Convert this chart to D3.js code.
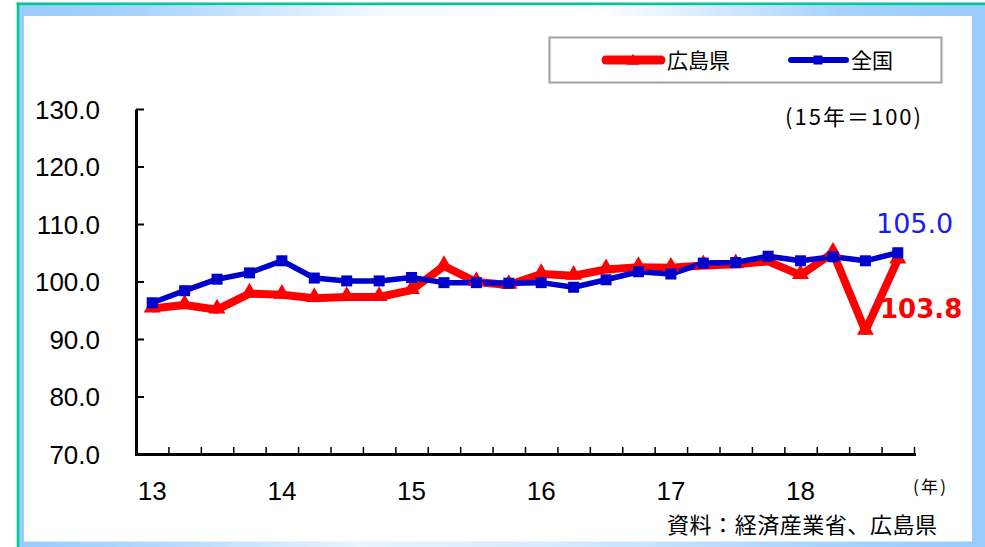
<!DOCTYPE html>
<html>
<head>
<meta charset="utf-8">
<script src="https://cdn.jsdelivr.net/npm/d3@7"></script>
<style>
  html, body { margin: 0; padding: 0; background: #ffffff; }
  svg { display: block; }
</style>
</head>
<body>
<svg id="chart" width="985" height="547"></svg>
<script>
// ---- data ----
const quarters = d3.range(24); // 2013Q1 .. 2018Q4
const yearLabels = ["13", "14", "15", "16", "17", "18"];
const hiroshima = [95.3, 95.9, 95.1, 97.9, 97.7, 97.1, 97.3, 97.3, 98.5, 102.7, 99.9, 99.4,
                   101.3, 101.0, 102.1, 102.5, 102.4, 102.8, 103.0, 103.5, 101.1, 105.0, 91.4, 103.8];
const national  = [96.3, 98.4, 100.4, 101.5, 103.6, 100.6, 100.1, 100.1, 100.7, 99.8, 99.8, 99.7,
                   99.8, 99.0, 100.3, 101.7, 101.3, 103.2, 103.3, 104.4, 103.6, 104.3, 103.6, 105.0];
const yTicks = [70, 80, 90, 100, 110, 120, 130];
const seriesNames = ["広島県", "全国"];

const RED = "#ff0000", BLUE = "#0000cc";
const svg = d3.select("#chart");

// ---- frame ----
const defs = svg.append("defs");
const gTop = defs.append("linearGradient").attr("id", "gTop").attr("x1", "0").attr("x2", "1").attr("y1", "0").attr("y2", "0");
[[0, "#99ccff"], [0.12, "#a6d2ff"], [0.38, "#f4faff"], [0.6, "#ffffff"], [0.85, "#a6d2ff"], [1, "#99ccff"]]
  .forEach(s => gTop.append("stop").attr("offset", s[0]).attr("stop-color", s[1]));
const gBot = defs.append("linearGradient").attr("id", "gBot").attr("x1", "0").attr("x2", "1").attr("y1", "0").attr("y2", "0");
[[0, "#99ccff"], [0.15, "#b4d9ff"], [0.35, "#e8f4ff"], [0.55, "#d6ebff"], [0.85, "#a6d2ff"], [1, "#99ccff"]]
  .forEach(s => gBot.append("stop").attr("offset", s[0]).attr("stop-color", s[1]));

svg.append("rect").attr("x", 19).attr("y", 5).attr("width", 966).attr("height", 11).attr("fill", "url(#gTop)");
svg.append("rect").attr("x", 19).attr("y", 5).attr("width", 5).attr("height", 542).attr("fill", "#99ccff");
svg.append("rect").attr("x", 972).attr("y", 5).attr("width", 13).attr("height", 542).attr("fill", "#99ccff");
svg.append("rect").attr("x", 19).attr("y", 541.5).attr("width", 966).attr("height", 6).attr("fill", "url(#gBot)");
svg.append("rect").attr("x", 16.7).attr("y", 2.5).attr("width", 968.3).attr("height", 2.6).attr("fill", "#00c896");
svg.append("rect").attr("x", 16.7).attr("y", 2.5).attr("width", 2.6).attr("height", 545).attr("fill", "#00c896");

// ---- scales ----
const x = d3.scaleBand().domain(quarters).range([136, 914]).padding(0);
const xc = i => x(i) + x.bandwidth() / 2;
const xLin = d3.scaleLinear().domain([0, 24]).range([136, 914]);
const y = d3.scaleLinear().domain([70, 130]).range([454, 109]);

// ---- axes ----
const yAxis = svg.append("g").attr("transform", "translate(136,0)")
  .call(d3.axisLeft(y).tickValues(yTicks).tickSizeInner(-8).tickSizeOuter(0).tickPadding(36)
        .tickFormat(d3.format(".1f")));
yAxis.select(".domain").attr("stroke", "#000").attr("stroke-width", 3);
yAxis.selectAll(".tick line").attr("stroke", "#000").attr("stroke-width", 2);
yAxis.selectAll(".tick text")
  .attr("font-family", "'Liberation Sans', Arial, sans-serif").attr("font-size", 26)
  .attr("fill", "#000").attr("dy", "0.36em");

const xAxisTicks = svg.append("g").attr("transform", "translate(0,454)")
  .call(d3.axisBottom(xLin).tickValues(d3.range(1, 25)).tickSizeInner(-7).tickSizeOuter(0).tickFormat(""));
xAxisTicks.select(".domain").attr("stroke", "#000").attr("stroke-width", 3).attr("stroke-linecap", "square");
xAxisTicks.selectAll(".tick line").attr("stroke", "#000").attr("stroke-width", 1.5);

const xAxisLabels = svg.append("g").attr("transform", "translate(0,454)")
  .call(d3.axisBottom(x).tickValues([0, 4, 8, 12, 16, 20]).tickSize(0).tickPadding(28)
        .tickFormat(i => yearLabels[i / 4]));
xAxisLabels.select(".domain").remove();
xAxisLabels.selectAll(".tick text")
  .attr("font-family", "'Liberation Sans', Arial, sans-serif").attr("font-size", 26).attr("fill", "#000");

// ---- lines ----
const line = d3.line().x((d, i) => xc(i)).y(d => y(d));
svg.append("path").datum(hiroshima).attr("d", line).attr("fill", "none")
  .attr("stroke", RED).attr("stroke-width", 8).attr("stroke-linejoin", "round");
svg.append("path").datum(national).attr("d", line).attr("fill", "none")
  .attr("stroke", BLUE).attr("stroke-width", 5.5).attr("stroke-linejoin", "round");

const tri = d3.symbol(d3.symbolTriangle).size(125);
svg.append("g").selectAll("path").data(hiroshima).join("path")
  .attr("d", tri).attr("fill", RED)
  .attr("transform", (d, i) => `translate(${xc(i)},${y(d) - 1})`);
svg.append("g").selectAll("rect").data(national).join("rect")
  .attr("x", (d, i) => xc(i) - 5.5).attr("y", d => y(d) - 5.5)
  .attr("width", 11).attr("height", 11).attr("fill", BLUE);

// ---- annotations ----
svg.append("text").attr("x", 876).attr("y", 233).text(national[23].toFixed(1))
  .attr("font-family", "'DejaVu Sans', Verdana, sans-serif").attr("font-size", 27).attr("fill", "#1a1aff");
svg.append("text").attr("x", 880).attr("y", 318).text(hiroshima[23].toFixed(1))
  .attr("font-family", "'DejaVu Sans', Verdana, sans-serif").attr("font-size", 26)
  .attr("font-weight", "bold").attr("fill", RED);

const jp = "'Noto Sans CJK JP', 'Noto Sans', sans-serif";
svg.append("text").attr("x", 785).attr("y", 125).text("(15年＝100)")
  .attr("font-family", jp).attr("font-size", 22).attr("fill", "#000")
  .attr("textLength", 136).attr("lengthAdjust", "spacing");
svg.append("text").attr("x", 913).attr("y", 493).text("(年)")
  .attr("font-family", jp).attr("font-size", 17).attr("fill", "#000")
  .attr("textLength", 33).attr("lengthAdjust", "spacing");
svg.append("text").attr("x", 937).attr("y", 533).attr("text-anchor", "end").text("資料：経済産業省、広島県")
  .attr("font-family", jp).attr("font-size", 22).attr("fill", "#000")
  .attr("textLength", 270).attr("lengthAdjust", "spacing");

// ---- legend ----
const lg = svg.append("g");
lg.append("rect").attr("x", 549.5).attr("y", 37.5).attr("width", 392).attr("height", 45)
  .attr("fill", "#fff").attr("stroke", "#a0a0a0").attr("stroke-width", 2);
lg.append("line").attr("x1", 606).attr("x2", 661).attr("y1", 60).attr("y2", 60)
  .attr("stroke", RED).attr("stroke-width", 9).attr("stroke-linecap", "round");
lg.append("path").attr("d", d3.symbol(d3.symbolTriangle).size(70)).attr("fill", RED)
  .attr("transform", "translate(633,61)");
lg.append("text").attr("x", 667).attr("y", 68).text(seriesNames[0])
  .attr("font-family", jp).attr("font-size", 21).attr("fill", "#000");
lg.append("line").attr("x1", 791).attr("x2", 846).attr("y1", 60).attr("y2", 60)
  .attr("stroke", BLUE).attr("stroke-width", 6).attr("stroke-linecap", "round");
lg.append("rect").attr("x", 813.5).attr("y", 55.5).attr("width", 9).attr("height", 9).attr("fill", BLUE);
lg.append("text").attr("x", 851).attr("y", 68).text(seriesNames[1])
  .attr("font-family", jp).attr("font-size", 21).attr("fill", "#000");
</script>
</body>
</html>
